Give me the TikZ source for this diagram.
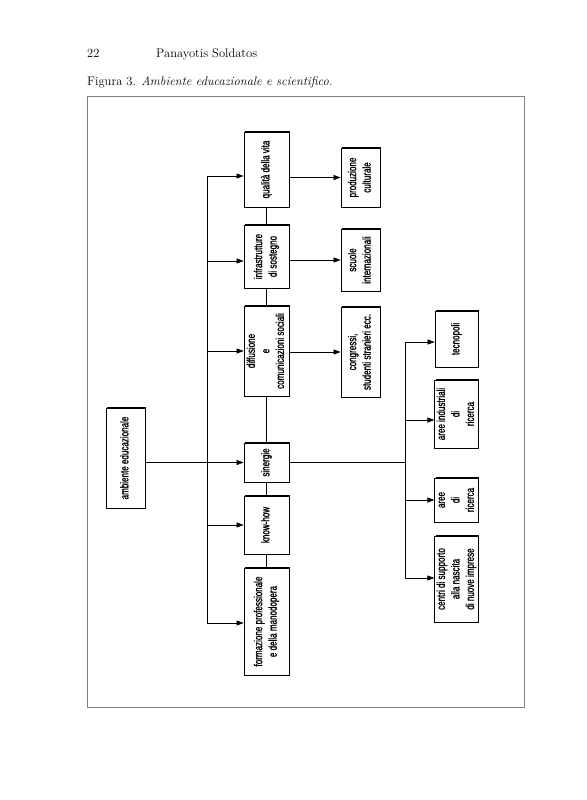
\documentclass[tikz,border=0pt]{standalone}
\usepackage{fontspec}
\usetikzlibrary{arrows.meta,shadows}
\newfontfamily\boxfont[FakeStretch=0.7,FakeBold=1.2]{Liberation Sans}
\newcommand{\vlabel}[1]{\rotatebox{90}{\begin{tabular}{@{}c@{}}#1\end{tabular}}}
\tikzset{
  box/.style={draw, fill=white, line width=0.8pt, inner sep=0pt,
    font=\boxfont\fontsize{11.5}{14.5}\selectfont,
    drop shadow={shadow xshift=1.2pt, shadow yshift=1.2pt, fill=black, opacity=1}},
  arr/.style={-{Triangle[length=7pt,width=5pt]}, line width=0.6pt},
  link/.style={line width=0.6pt},
  head/.style={anchor=base west, inner sep=0pt, font=\fontsize{12.5}{15}\selectfont}
}
\begin{document}
\begin{tikzpicture}[x=1pt,y=-1pt]
			\useasboundingbox (0,0) rectangle (586,800);
			
			\node[head] (pnum) at (87,57) {22};
			\node[head] (auth) at (156,57) {Panayotis Soldatos};
			\node[head] (capt) at (87,85) {Figura 3. \textit{Ambiente educazionale e scientifico.}};
			\draw[gray, line width=0.5pt] (87,96) rectangle (524,707);
			
			\node[box, minimum width=39, minimum height=100] (amb) at (125.5,458) {\vlabel{ambiente educazionale}};
			
			\node[box, minimum width=45, minimum height=75] (qual) at (266.5,169.5) {\vlabel{qualità della vita}};
			\node[box, minimum width=45, minimum height=63] (infr) at (266.5,256.5) {\vlabel{infrastrutture\\di sostegno}};
			\node[box, minimum width=45, minimum height=90] (diff) at (266.5,351) {\vlabel{diffusione\\e\\comunicazioni sociali}};
			\node[box, minimum width=45, minimum height=39] (sin) at (266.5,462.5) {\vlabel{sinergie}};
			\node[box, minimum width=45, minimum height=58] (know) at (266.5,525) {\vlabel{know-how}};
			\node[box, minimum width=45, minimum height=107] (form) at (266.5,621.5) {\vlabel{formazione professionale\\e della manodopera}};
			
			\node[box, minimum width=39, minimum height=59] (prod) at (360.5,177.5) {\vlabel{produzione\\culturale}};
			\node[box, minimum width=39, minimum height=62] (scuo) at (360.5,260) {\vlabel{scuole\\internazionali}};
			\node[box, minimum width=39, minimum height=90] (cong) at (360.5,352) {\vlabel{congressi,\\studenti stranieri ecc.}};
			
			\node[box, minimum width=43, minimum height=56] (tecn) at (456.5,339) {\vlabel{tecnopoli}};
			\node[box, minimum width=43, minimum height=68] (aind) at (456.5,414) {\vlabel{aree industriali\\di\\ricerca}};
			\node[box, minimum width=43, minimum height=44] (aric) at (456.5,500) {\vlabel{aree\\di\\ricerca}};
			\node[box, minimum width=43, minimum height=86] (cent) at (456.5,579) {\vlabel{centri di supporto\\alla nascita\\di nuove imprese}};
			
			% trunk to the first column
			\coordinate (t1) at (207,176);
			\coordinate (t2) at (207,261);
			\coordinate (t3) at (207,351);
			\coordinate (t5) at (207,525);
			\coordinate (t4) at (207,623);
			\draw[link] (t1) -- (t4);
			\draw[arr] (amb.east |- sin.west) -- (sin.west);
			\draw[arr] (t1) -- (t1 -| qual.west);
			\draw[arr] (t2) -- (t2 -| infr.west);
			\draw[arr] (t3) -- (t3 -| diff.west);
			\draw[arr] (t5) -- (t5 -| know.west);
			\draw[arr] (t4) -- (t4 -| form.west);
			
			\foreach \a/\b in {qual/infr,infr/diff,diff/sin,sin/know,know/form}
				\draw[link] (\a.south) -- (\b.north);
			
			\draw[arr] (qual.east |- prod.west) -- (prod.west);
			\draw[arr] (infr.east |- scuo.west) -- (scuo.west);
			\draw[arr] (diff.east |- cong.west) -- (cong.west);
			
			% trunk to the third column
			\coordinate (b1) at (405,342);
			\coordinate (b2) at (405,420);
			\coordinate (b3) at (405,500);
			\coordinate (b4) at (405,578);
			\draw[link] (b1) -- (b4);
			\draw[link] (sin.east) -- (sin.east -| b1);
			\draw[arr] (b1) -- (b1 -| tecn.west);
			\draw[arr] (b2) -- (b2 -| aind.west);
			\draw[arr] (b3) -- (b3 -| aric.west);
			\draw[arr] (b4) -- (b4 -| cent.west);
\end{tikzpicture}
\end{document}
